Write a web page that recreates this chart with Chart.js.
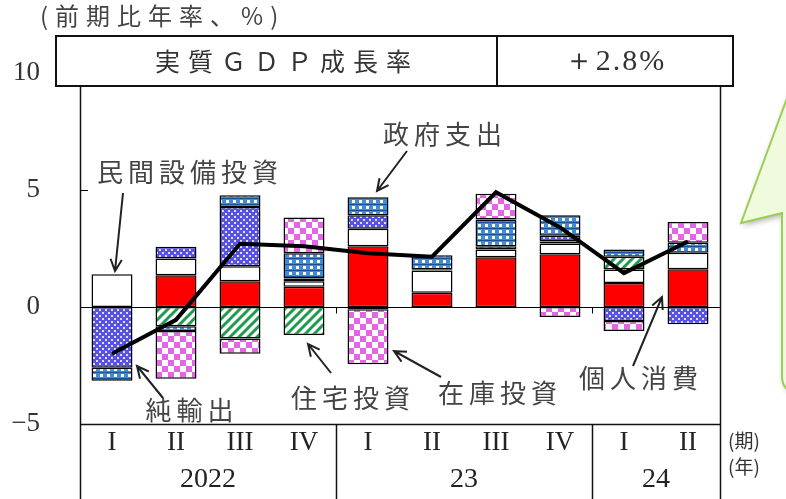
<!DOCTYPE html>
<html lang="ja">
<head>
<meta charset="utf-8">
<script src="https://cdn.jsdelivr.net/npm/chart.js@4.4.1/dist/chart.umd.min.js"></script>
<style>
html, body { margin: 0; padding: 0; background: #fff; }
#wrap { width: 786px; height: 499px; }
</style>
</head>
<body>
<div id="wrap"><canvas id="gdpChart" width="786" height="499"></canvas></div>
<script>
// Quarters and years
const quarters = ['I', 'II', 'III', 'IV', 'I', 'II', 'III', 'IV', 'I', 'II'];
const years = ['2022', '23', '24'];
const yearSpans = [4, 4, 2];

// Contributions to real GDP growth (percentage points, annualized)
const consumption = [null, 1.36, 1.10, 0.87, 2.60, 0.61, 2.13, 2.25, 1.03, 1.61];
const business = [1.40, 0.71, 0.64, 0.23, 0.74, 0.95, 0.33, 0.46, 0.57, 0.71];
const housing = [null, -0.82, -1.35, -1.20, -0.10, null, 0.14, 0.09, 0.55, null];
const netExports = [-2.60, 0.50, 2.53, 0.12, 0.58, 0.05, null, 0.24, -0.60, -0.74];
const government = [-0.55, -0.21, 0.51, 1.08, 0.77, 0.60, 1.14, 0.88, 0.31, 0.43];
const inventory = [null, -2.04, -0.65, 1.52, -2.35, null, 1.10, -0.43, -0.43, 0.88];
const gdpGrowth = [-2.0, -0.55, 2.7, 2.6, 2.3, 2.15, 4.9, 3.4, 1.45, 2.8];

// Axis
const yMin = -5, yMax = 10, yStep = 5;

// Header box text
const headerTitle = '実質ＧＤＰ成長率';
const headerValue = '＋2.8%';

// Fill patterns
function makePattern(w, h, draw) {
    const c = document.createElement('canvas');
    c.width = w; c.height = h;
    const g = c.getContext('2d');
    draw(g, w, h);
    return g.createPattern(c, 'repeat');
}

const pinkChecks = makePattern(12, 12, (g) => {
    g.fillStyle = '#fff'; g.fillRect(0, 0, 12, 12);
    g.fillStyle = '#e466e4';
    g.fillRect(0, 0, 6, 6); g.fillRect(6, 6, 6, 6);
});

const purpleDots = makePattern(6, 6, (g) => {
    g.fillStyle = '#5752e2'; g.fillRect(0, 0, 6, 6);
    g.fillStyle = '#dedcff';
    g.fillRect(0, 0, 2, 2); g.fillRect(3, 3, 2, 2);
    g.fillRect(1, 1, 1, 1);
});

const blueGrid = makePattern(7, 6, (g) => {
    g.fillStyle = '#3a8dd6'; g.fillRect(0, 0, 7, 6);
    g.fillStyle = '#1d4f9a'; g.fillRect(0, 0, 7, 1);
    g.fillStyle = '#fff'; g.fillRect(2, 2, 3, 3);
});

const greenStripes = makePattern(9, 9, (g) => {
    g.fillStyle = '#fff'; g.fillRect(0, 0, 9, 9);
    g.strokeStyle = '#1e9c4e'; g.lineWidth = 3;
    g.beginPath();
    g.moveTo(0, 9); g.lineTo(9, 0);
    g.moveTo(-4.5, 4.5); g.lineTo(4.5, -4.5);
    g.moveTo(4.5, 13.5); g.lineTo(13.5, 4.5);
    g.stroke();
});

function barSet(label, data, fill) {
    return {
        type: 'bar', label, data,
        backgroundColor: fill,
        borderColor: '#000', borderWidth: 1.5, borderSkipped: false,
        categoryPercentage: 1, barPercentage: 0.64,
        order: 1
    };
}

function arrow(ctx, x1, y1, x2, y2) {
    const a = Math.atan2(y2 - y1, x2 - x1);
    const len = 13, spread = 0.45;
    ctx.beginPath();
    ctx.moveTo(x1, y1); ctx.lineTo(x2, y2);
    ctx.moveTo(x2 - len * Math.cos(a - spread), y2 - len * Math.sin(a - spread));
    ctx.lineTo(x2, y2);
    ctx.lineTo(x2 - len * Math.cos(a + spread), y2 - len * Math.sin(a + spread));
    ctx.stroke();
}

const jpFont = '"Noto Sans CJK JP", sans-serif';
const numFont = '"Liberation Serif", serif';

const decorations = {
    id: 'decorations',
    beforeDatasetsDraw(chart) {
        const { ctx, chartArea: area, scales: { y } } = chart;
        const y0 = Math.round(y.getPixelForValue(0)) + 0.5;
        const cat = (area.right - area.left) / quarters.length;
        ctx.save();
        ctx.strokeStyle = '#000'; ctx.lineWidth = 1;
        ctx.beginPath();
        ctx.moveTo(area.left, y0); ctx.lineTo(area.right, y0);
        // tick at 5 on the value axis
        const y5 = Math.round(y.getPixelForValue(5)) + 0.5;
        ctx.moveTo(area.left, y5); ctx.lineTo(area.left + 8, y5);
        // year boundary ticks on the zero line
        let idx = 0;
        yearSpans.slice(0, -1).forEach((n) => {
            idx += n;
            const xb = Math.round(area.left + idx * cat) + 0.5;
            ctx.moveTo(xb, y0); ctx.lineTo(xb, y0 + 6);
        });
        ctx.stroke();
        ctx.restore();
    },
    afterDraw(chart) {
        const { ctx, chartArea: area } = chart;
        const H = chart.height;
        const cat = (area.right - area.left) / quarters.length;
        ctx.save();

        // callout shape on the right edge
        ctx.save();
        ctx.shadowColor = 'rgba(0,0,0,0.35)';
        ctx.shadowBlur = 6; ctx.shadowOffsetX = 2; ctx.shadowOffsetY = 2;
        ctx.beginPath();
        ctx.moveTo(790, 90);
        ctx.lineTo(741, 223);
        ctx.lineTo(782, 213);
        ctx.lineTo(782, 376);
        ctx.quadraticCurveTo(782, 392, 798, 392);
        ctx.lineTo(830, 392);
        ctx.lineTo(830, 90);
        ctx.closePath();
        ctx.fillStyle = '#f0fadc';
        ctx.fill();
        ctx.restore();
        ctx.strokeStyle = '#9ccd55'; ctx.lineWidth = 2;
        ctx.stroke();

        // frame
        ctx.strokeStyle = '#111'; ctx.lineWidth = 1.5;
        const L = area.left + 0.5, R = area.right + 0.5, B = area.bottom + 0.5;
        ctx.beginPath();
        ctx.moveTo(L, 86); ctx.lineTo(L, H);
        ctx.moveTo(R, 86); ctx.lineTo(R, H);
        ctx.moveTo(L, B); ctx.lineTo(R, B);
        let idx = 0;
        yearSpans.slice(0, -1).forEach((n) => {
            idx += n;
            const xb = Math.round(area.left + idx * cat) + 0.5;
            ctx.moveTo(xb, B); ctx.lineTo(xb, H);
        });
        ctx.stroke();

        // year labels
        ctx.fillStyle = '#222';
        ctx.font = '28px ' + numFont;
        ctx.textAlign = 'center'; ctx.textBaseline = 'middle';
        idx = 0;
        years.forEach((yr, i) => {
            const cx = area.left + (idx + yearSpans[i] / 2) * cat;
            ctx.fillText(yr, cx, 480);
            idx += yearSpans[i];
        });

        // period / year markers
        ctx.font = '19px ' + jpFont;
        ctx.fillStyle = '#333';
        ctx.textAlign = 'left';
        ctx.fillText('(期)', 728, 441);
        ctx.fillText('(年)', 728, 467);

        // header box
        ctx.fillStyle = '#fff';
        ctx.fillRect(56, 36, 677, 50);
        ctx.strokeStyle = '#111'; ctx.lineWidth = 2;
        ctx.strokeRect(56, 36, 677, 50);
        ctx.beginPath(); ctx.moveTo(497, 36); ctx.lineTo(497, 86); ctx.stroke();
        ctx.fillStyle = '#333';
        ctx.textAlign = 'center';
        ctx.font = '25px ' + jpFont;
        ctx.letterSpacing = '8px';
        ctx.fillText(headerTitle, 287, 61);
        ctx.letterSpacing = '2px';
        ctx.font = '30px ' + numFont;
        ctx.fillText(headerValue, 615, 62);
        ctx.letterSpacing = '0px';

        // unit label
        ctx.textAlign = 'left';
        ctx.font = '24px ' + jpFont;
        ctx.letterSpacing = '7px';
        ctx.fillStyle = '#444';
        ctx.fillText('(前期比年率、%)', 40, 16);

        // component labels
        ctx.textAlign = 'center';
        ctx.font = '26px ' + jpFont;
        ctx.letterSpacing = '5px';
        ctx.fillStyle = '#444';
        ctx.fillText('民間設備投資', 190, 172);
        ctx.fillText('政府支出', 445, 134);
        ctx.fillText('純輸出', 192, 410);
        ctx.fillText('住宅投資', 353, 398);
        ctx.fillText('在庫投資', 500, 393);
        ctx.fillText('個人消費', 641, 378);
        ctx.letterSpacing = '0px';

        // arrows
        ctx.strokeStyle = '#222'; ctx.lineWidth = 2;
        arrow(ctx, 123, 193, 115, 271);
        arrow(ctx, 407, 151, 377, 191);
        arrow(ctx, 163, 398, 137, 366);
        arrow(ctx, 331, 373, 308, 344);
        arrow(ctx, 441, 377, 394, 351);
        arrow(ctx, 633, 366, 662, 297);

        ctx.restore();
    }
};

const ctx = document.getElementById('gdpChart').getContext('2d');
const gdpChart = new Chart(ctx, {
    data: {
        labels: quarters,
        datasets: [
            {
                type: 'line', label: '実質GDP成長率', data: gdpGrowth,
                borderColor: '#000', borderWidth: 4, pointRadius: 0,
                tension: 0, stack: 'gdp', order: 0
            },
            barSet('個人消費', consumption, '#ff0000'),
            barSet('民間設備投資', business, '#ffffff'),
            barSet('住宅投資', housing, greenStripes),
            barSet('純輸出', netExports, purpleDots),
            barSet('政府支出', government, blueGrid),
            barSet('在庫投資', inventory, pinkChecks)
        ]
    },
    options: {
        responsive: false,
        animation: false,
        layout: { padding: { top: 73, right: 66, left: 0, bottom: 0 } },
        plugins: { legend: { display: false }, tooltip: { enabled: false } },
        scales: {
            x: {
                stacked: true,
                grid: { display: false, drawTicks: false }, border: { display: false },
                ticks: {
                    font: { family: 'Liberation Serif', size: 27 }, color: '#222',
                    padding: 3, maxRotation: 0, autoSkip: false
                },
                afterFit(s) { s.height = 75; }
            },
            y: {
                stacked: true, min: yMin, max: yMax,
                grid: { display: false, drawTicks: false }, border: { display: false },
                ticks: {
                    stepSize: yStep,
                    font: { family: 'Liberation Serif', size: 27 }, color: '#333',
                    padding: 40,
                    callback: (v) => (v < 0 ? '−' + Math.abs(v) : v)
                },
                afterFit(s) { s.width = 80; }
            }
        }
    },
    plugins: [decorations]
});
</script>
</body>
</html>
